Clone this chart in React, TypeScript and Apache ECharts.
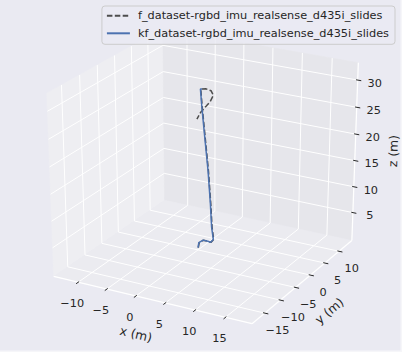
import React, { useEffect, useRef } from 'react';
import * as echarts from 'echarts';

const seriesNames = [
  'f_dataset-rgbd_imu_realsense_d435i_slides',
  'kf_dataset-rgbd_imu_realsense_d435i_slides',
];

// keyframe trajectory (metres)
const kfX = [0, 0.12, 0.85, 1.71, 2.22, 2.74, 2.44, 2.17, 1.71, 1.15, 0.68, 0.46, 0.75];
const kfY = [0, 0.05, 0.1, 0.05, -0.05, -0.1, -0.1, 0.0, 0.1, 0.1, 0.05, 0.0, 0.0];
const kfZ = [0, 0.96, 1.61, 1.61, 1.58, 2.29, 4.58, 8.94, 14.99, 21.08, 26.57, 29.95, 30.02];

// frame trajectory (metres)
const fX = [0.05, 0.18, 0.9, 1.76, 2.28, 2.8, 2.52, 2.24, 1.78, 1.22, 0.74, 0.52, 1.42, 2.22, 2.56, 2.05, 1.15, 0.51, -0.12];
const fY = [0, 0.05, 0.1, 0.05, -0.05, -0.1, -0.1, 0.0, 0.1, 0.1, 0.05, 0.0, 0.0, 0.1, 0.15, 0.1, 0.05, 0.0, -0.05];
const fZ = [0, 0.95, 1.6, 1.62, 1.58, 2.3, 4.6, 8.9, 15.0, 21.1, 26.6, 29.95, 30.17, 29.94, 29.17, 27.94, 26.67, 25.73, 24.34];

const xTicks = [-10, -5, 0, 5, 10, 15];
const yTicks = [-15, -10, -5, 0, 5, 10];
const zTicks = [5, 10, 15, 20, 25, 30];
const xLim = [-13.65, 18.65];
const yLim = [-18.3, 14.0];
const zLim = [0.2, 32.5];
const axisTitles = ['x (m)', 'y (m)', 'z (m)'];

// view parameters
const ELEV = 25;
const AZIM = -61.3;
const DIST = 10;
const VIEW_X = [-0.0954, 0.0912];
const VIEW_Y = [-0.0953, 0.0889];

const TEXT = '#262626';
const FONT = 'DejaVu Sans';

function project(x: number, y: number, z: number): [number, number] {
  const e = (ELEV * Math.PI) / 180;
  const a = (AZIM * Math.PI) / 180;
  const px = (x - xLim[0]) / (xLim[1] - xLim[0]);
  const py = (y - yLim[0]) / (yLim[1] - yLim[0]);
  const pz = (z - zLim[0]) / (zLim[1] - zLim[0]);
  const n = [Math.cos(e) * Math.cos(a), Math.cos(e) * Math.sin(a), Math.sin(e)];
  const u = [-Math.sin(a), Math.cos(a), 0];
  const v = [-Math.sin(e) * Math.cos(a), -Math.sin(e) * Math.sin(a), Math.cos(e)];
  const d = [px - 0.5 - DIST * n[0], py - 0.5 - DIST * n[1], pz - 0.5 - DIST * n[2]];
  const X = u[0] * d[0] + u[1] * d[1] + u[2] * d[2];
  const Y = v[0] * d[0] + v[1] * d[1] + v[2] * d[2];
  const W = -(n[0] * d[0] + n[1] * d[1] + n[2] * d[2]);
  return [X / W, Y / W];
}

function fmt(t: number) {
  return t < 0 ? '\u2212' + Math.abs(t) : String(t);
}

function buildOption() {
  const xp = (xLim[1] - xLim[0]) / 48;
  const yp = (yLim[1] - yLim[0]) / 48;
  const zp = (zLim[1] - zLim[0]) / 48;
  const X0 = xLim[0] - xp, X1 = xLim[1] + xp;
  const Y0 = yLim[0] - yp, Y1 = yLim[1] + yp;
  const Z0 = zLim[0] - zp, Z1 = zLim[1] + zp;
  const dx = (xLim[1] - xLim[0]) / 12;
  const dy = (yLim[1] - yLim[0]) / 12;
  const IN = 0.1, OUT = 0.22;

  const flat = (pts: number[][]) => {
    const r: number[] = [];
    pts.forEach((p) => {
      const q = project(p[0], p[1], p[2]);
      r.push(q[0], q[1]);
    });
    return r;
  };

  const paneFills = ['#EEEEF2', '#E6E6EB', '#EBEBF0'];
  const panes = [
    [[X0, Y0, Z0], [X0, Y1, Z0], [X0, Y1, Z1], [X0, Y0, Z1]],
    [[X0, Y1, Z0], [X1, Y1, Z0], [X1, Y1, Z1], [X0, Y1, Z1]],
    [[X0, Y0, Z0], [X1, Y0, Z0], [X1, Y1, Z0], [X0, Y1, Z0]],
  ].map((c, i) => [...flat(c), i]);

  const grid: number[][] = [];
  xTicks.forEach((t) => grid.push(flat([[t, Y0, Z0], [t, Y1, Z0], [t, Y1, Z1]])));
  yTicks.forEach((t) => grid.push(flat([[X0, t, Z1], [X0, t, Z0], [X1, t, Z0]])));
  zTicks.forEach((t) => grid.push(flat([[X1, Y1, t], [X0, Y1, t], [X0, Y0, t]])));

  const axisEdges = [
    flat([[X0, Y0, Z0], [X1, Y0, Z0]]),
    flat([[X1, Y0, Z0], [X1, Y1, Z0]]),
    flat([[X1, Y1, Z0], [X1, Y1, Z1]]),
  ];

  const ticks: number[][] = [];
  xTicks.forEach((t) => ticks.push(flat([[t, Y0 + IN * dy, Z0], [t, Y0 - OUT * dy, Z0]])));
  yTicks.forEach((t) => ticks.push(flat([[X1 - IN * dx, t, Z0], [X1 + OUT * dx, t, Z0]])));
  zTicks.forEach((t) => ticks.push(flat([[X1 - IN * dx, Y1, t], [X1 + OUT * dx, Y1, t]])));

  const labelOff = [[-6, 21], [12.7, 17.2], [17, 3.3]];
  const tickLabels: number[][] = [];
  const tickTexts: string[] = [];
  xTicks.forEach((t) => {
    tickLabels.push([...flat([[t, Y0, Z0]]), 0, tickTexts.length]);
    tickTexts.push(fmt(t));
  });
  yTicks.forEach((t) => {
    tickLabels.push([...flat([[X1, t, Z0]]), 1, tickTexts.length]);
    tickTexts.push(fmt(t));
  });
  zTicks.forEach((t) => {
    tickLabels.push([...flat([[X1, Y1, t]]), 2, tickTexts.length]);
    tickTexts.push(fmt(t));
  });

  const titleOff = [[-17, 34.3], [27.5, 29], [38.5, -0.5]];
  const titles = axisEdges.map((e, i) => [...e, i]);

  const kfPts = kfX.map((x, i) => project(x, kfY[i], kfZ[i]));
  const fPts = fX.map((x, i) => project(x, fY[i], fZ[i]));

  return {
    animation: false,
    backgroundColor: '#EAEAF2',
    grid: { left: 0, right: 0, top: 0, bottom: 0 },
    xAxis: { type: 'value', min: VIEW_X[0], max: VIEW_X[1], show: false },
    yAxis: { type: 'value', min: VIEW_Y[0], max: VIEW_Y[1], show: false },
    graphic: [
      { type: 'rect', right: 0, top: 0, shape: { width: 1.5, height: 352 }, style: { fill: '#F6F6F9' }, silent: true },
      { type: 'rect', left: 0, bottom: 0, shape: { width: 402, height: 1.5 }, style: { fill: '#F6F6F9' }, silent: true },
    ],
    legend: {
      data: seriesNames,
      orient: 'vertical',
      right: 7,
      top: 6,
      itemWidth: 23,
      itemHeight: 12,
      itemGap: 5.6,
      padding: [3.7, 6, 5, 4],
      backgroundColor: 'rgba(234,234,242,0.8)',
      borderColor: '#CCCCCC',
      borderWidth: 1,
      borderRadius: 3,
      itemStyle: { opacity: 0 },
      textStyle: { color: TEXT, fontSize: 11.3, fontFamily: FONT, lineHeight: 12, padding: [0, 0, 0, 3] },
      selectedMode: false,
    },
    series: [
      {
        type: 'custom',
        coordinateSystem: 'cartesian2d',
        silent: true,
        z: 1,
        data: panes,
        renderItem: (_p: any, api: any) => {
          const pts = [];
          for (let i = 0; i < 4; i++) pts.push(api.coord([api.value(2 * i), api.value(2 * i + 1)]));
          const f = paneFills[api.value(8)];
          return { type: 'polygon', shape: { points: pts }, style: { fill: f, stroke: f, lineWidth: 0.5 } };
        },
      },
      {
        type: 'custom',
        coordinateSystem: 'cartesian2d',
        silent: true,
        z: 2,
        data: grid,
        renderItem: (_p: any, api: any) => {
          const pts = [];
          for (let i = 0; i < 3; i++) pts.push(api.coord([api.value(2 * i), api.value(2 * i + 1)]));
          return { type: 'polyline', shape: { points: pts }, style: { stroke: '#FFFFFF', lineWidth: 1, fill: null } };
        },
      },
      {
        type: 'custom',
        coordinateSystem: 'cartesian2d',
        silent: true,
        z: 3,
        data: axisEdges,
        renderItem: (_p: any, api: any) => {
          const a = api.coord([api.value(0), api.value(1)]);
          const b = api.coord([api.value(2), api.value(3)]);
          return { type: 'line', shape: { x1: a[0], y1: a[1], x2: b[0], y2: b[1] }, style: { stroke: '#FFFFFF', lineWidth: 1.25 } };
        },
      },
      {
        type: 'custom',
        coordinateSystem: 'cartesian2d',
        silent: true,
        z: 4,
        data: ticks,
        renderItem: (_p: any, api: any) => {
          const a = api.coord([api.value(0), api.value(1)]);
          const b = api.coord([api.value(2), api.value(3)]);
          return { type: 'line', shape: { x1: a[0], y1: a[1], x2: b[0], y2: b[1] }, style: { stroke: TEXT, lineWidth: 1 } };
        },
      },
      {
        type: 'custom',
        coordinateSystem: 'cartesian2d',
        silent: true,
        z: 4,
        data: tickLabels,
        renderItem: (_p: any, api: any) => {
          const a = api.coord([api.value(0), api.value(1)]);
          const off = labelOff[api.value(2)];
          return {
            type: 'text',
            x: a[0] + off[0],
            y: a[1] + off[1],
            style: {
              text: tickTexts[api.value(3)],
              fill: TEXT,
              fontSize: 11.3,
              fontFamily: FONT,
              align: 'center',
              verticalAlign: 'middle',
            },
          };
        },
      },
      {
        type: 'custom',
        coordinateSystem: 'cartesian2d',
        silent: true,
        z: 4,
        data: titles,
        renderItem: (_p: any, api: any) => {
          const a = api.coord([api.value(0), api.value(1)]);
          const b = api.coord([api.value(2), api.value(3)]);
          const i = api.value(4);
          let ang = Math.atan2(-(b[1] - a[1]), b[0] - a[0]);
          if (ang > Math.PI / 2) ang -= Math.PI;
          if (ang < -Math.PI / 2) ang += Math.PI;
          const off = titleOff[i];
          return {
            type: 'text',
            x: (a[0] + b[0]) / 2 + off[0],
            y: (a[1] + b[1]) / 2 + off[1],
            rotation: ang,
            style: {
              text: axisTitles[i],
              fill: TEXT,
              fontSize: 12.3,
              fontFamily: FONT,
              align: 'center',
              verticalAlign: 'middle',
            },
          };
        },
      },
      {
        type: 'line',
        name: seriesNames[0],
        data: fPts,
        symbol: 'none',
        silent: true,
        z: 5,
        lineStyle: { color: '#4D4D4D', width: 1.5, type: [5.5, 2.4] },
        itemStyle: { color: '#4D4D4D' },
      },
      {
        type: 'line',
        name: seriesNames[1],
        data: kfPts,
        symbol: 'none',
        silent: true,
        z: 6,
        lineStyle: { color: '#4C72B0', width: 1.5 },
        itemStyle: { color: '#4C72B0' },
      },
    ],
  };
}

export default function App() {
  const ref = useRef<HTMLDivElement>(null);
  useEffect(() => {
    if (!ref.current) return;
    const chart = echarts.init(ref.current, null, { renderer: 'svg' });
    chart.setOption(buildOption() as any);
    return () => chart.dispose();
  }, []);
  return (
    <div
      ref={ref}
      style={{ position: 'fixed', left: 0, top: 0, width: 402, height: 352 }}
    />
  );
}
